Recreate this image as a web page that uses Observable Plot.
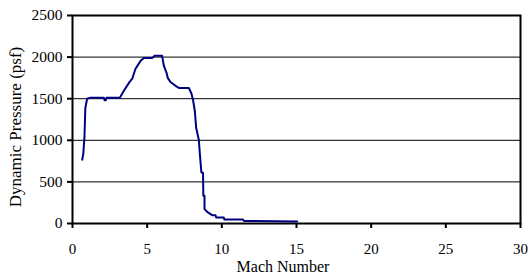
<!DOCTYPE html>
<html><head><meta charset="utf-8">
<script src="https://cdn.jsdelivr.net/npm/d3@7"></script>
<script src="https://cdn.jsdelivr.net/npm/@observablehq/plot@0.6"></script>
<style>
body{margin:0;background:#fff;}
svg, svg text, svg g{font-family:"Liberation Serif","Times New Roman",serif !important;}
</style></head>
<body><div id="chart"></div>
<script>
const mach = [0.65,0.72,0.80,0.86,0.98,1.16,2.10,2.16,2.22,2.28,3.17,3.44,3.78,4.0,4.22,4.56,4.78,5.34,5.5,6.0,6.12,6.3,6.38,6.56,6.9,7.12,7.79,7.97,8.08,8.19,8.28,8.46,8.53,8.63,8.74,8.76,8.84,8.84,9.02,9.35,9.58,9.62,10.13,10.17,11.4,11.5,15.05];
const pressure = [766,834,1034,1390,1499,1510,1510,1480,1480,1510,1510,1595,1690,1740,1860,1955,1990,1990,2015,2015,1895,1810,1750,1700,1655,1630,1630,1560,1475,1355,1150,1005,834,613,610,333,333,173,140,100,100,72,72,48,48,30,25];
const yTicks = [0,500,1000,1500,2000,2500];
const xTicks = [0,5,10,15,20,25,30];
const gridY = [500,1000,1500,2000];

const data = mach.map((m,i)=>({mach:m, q:pressure[i]}));

const plot = Plot.plot({
  width: 530, height: 275,
  marginLeft: 72, marginRight: 10, marginTop: 15, marginBottom: 52,
  style: {fontFamily: '"Liberation Serif","Times New Roman",serif', fontSize: "15px", color: "#000", background: "#fff"},
  x: {domain: [0,30], ticks: xTicks, label: null},
  y: {domain: [0,2500], ticks: yTicks, label: null},
  marks: [
    Plot.ruleY(gridY, {stroke: "#000", strokeWidth: 1}),
    Plot.frame({stroke: "#000", strokeWidth: 2}),
    Plot.axisY({ticks: yTicks, tickSize: 5, tickPadding: 5, tickFormat: d=>String(d), fontSize: 15.5, strokeWidth: 2, label: null}),
    Plot.axisX({ticks: xTicks, tickSize: 5, tickPadding: 15, tickFormat: d=>String(d), fontSize: 15, strokeWidth: 2, label: null}),
    Plot.line(data, {x: "mach", y: "q", stroke: "#000080", strokeWidth: 2, curve: "linear"})
  ]
});
const svg = d3.select(plot);
svg.append("text").attr("x", 283).attr("y", 272).attr("text-anchor","middle")
  .attr("font-size", 16).attr("fill","#000").text("Mach Number");
svg.append("text").attr("transform","translate(21,127) rotate(-90)").attr("text-anchor","middle")
  .attr("font-size", 17).attr("fill","#000").text("Dynamic Pressure (psf)");
document.getElementById("chart").appendChild(plot);
</script></body></html>
